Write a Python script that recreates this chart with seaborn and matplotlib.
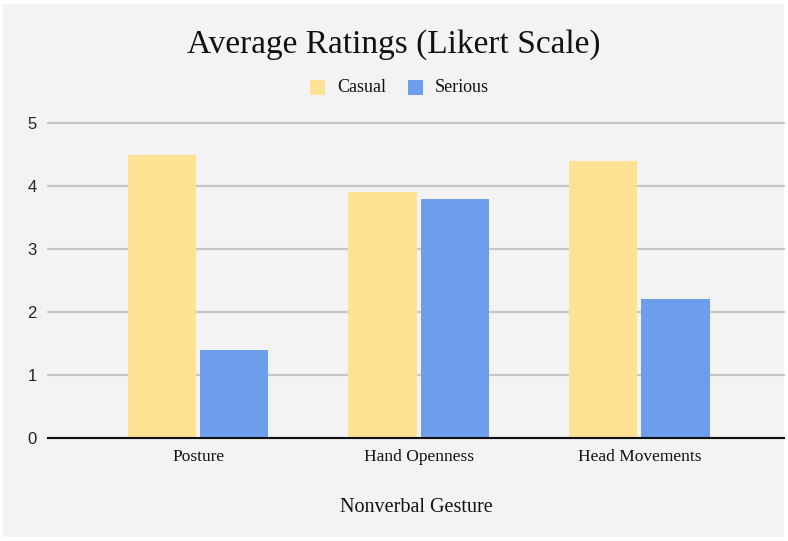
import matplotlib
matplotlib.use("Agg")
import matplotlib.pyplot as plt
import seaborn as sns
import pandas as pd
from matplotlib.patches import Rectangle

categories = ["Posture", "Hand Openness", "Head Movements"]
series_names = ["Casual", "Serious"]
casual = [4.5, 3.9, 4.4]
serious = [1.4, 3.8, 2.2]
y_ticks = [0, 1, 2, 3, 4, 5]

df = pd.DataFrame({
    "Gesture": categories * 2,
    "Series": [series_names[0]] * 3 + [series_names[1]] * 3,
    "Rating": casual + serious,
})

sns.set_theme(style="white")
plt.rcParams["font.family"] = ["Liberation Serif", "DejaVu Serif"]

bg = "#f3f3f3"
fig = plt.figure(figsize=(7.88, 5.41), dpi=100, facecolor="white")
fig.patches.append(Rectangle((3 / 788, 4 / 541), 781 / 788, 533 / 541,
                             transform=fig.transFigure, facecolor=bg,
                             edgecolor="none", zorder=-10))
ax = fig.add_axes([48 / 788, 1 - 438 / 541, (784 - 48) / 788, (438 - 123) / 541])
ax.set_facecolor(bg)

palette = {"Casual": "#fde293", "Serious": "#6d9eeb"}
sns.barplot(data=df, x="Gesture", y="Rating", hue="Series", order=categories,
            hue_order=series_names, palette=palette, width=0.655, gap=0.055,
            saturation=1, ax=ax, legend=False, zorder=3, linewidth=0)

ax.set_xlim(-0.68, 2.655)
ax.set_ylim(0, 5)
ax.set_yticks(y_ticks)
ax.set_yticklabels([str(t) for t in y_ticks], family="Liberation Sans",
                   fontsize=12, color="#222222")
ax.yaxis.grid(True, color="#c6c6c6", linewidth=1.6, zorder=0)
for gl in ax.get_ygridlines():
    gl.set_clip_on(False)
ax.set_axisbelow(True)
for s in ["top", "right", "left"]:
    ax.spines[s].set_visible(False)
ax.spines["bottom"].set_color("#111111")
ax.spines["bottom"].set_linewidth(1.5)
ax.spines["bottom"].set_zorder(5)
ax.tick_params(axis="both", length=0, pad=8)
ax.tick_params(axis="x", labelsize=12.5, pad=8)
for lbl in ax.get_xticklabels():
    lbl.set_family("Liberation Serif")
    lbl.set_color("#111111")
ax.set_xlabel("Nonverbal Gesture", fontsize=14.5, labelpad=24, color="#111111")
ax.set_ylabel("")

fig.text(0.5, 1 - 45 / 541, "Average Ratings (Likert Scale)", ha="center",
         va="center", fontsize=24, color="#111111")

# legend
lx = [310, 408]
for i, name in enumerate(series_names):
    fig.patches.append(Rectangle((lx[i] / 788, 1 - 95 / 541), 15 / 788, 15 / 541,
                                 transform=fig.transFigure,
                                 facecolor=palette[name], edgecolor="none"))
    fig.text((lx[i] + 27) / 788, 1 - 87 / 541, name, ha="left", va="center",
             fontsize=13, color="#111111")

fig.savefig("out.png", dpi=100, facecolor=fig.get_facecolor())
